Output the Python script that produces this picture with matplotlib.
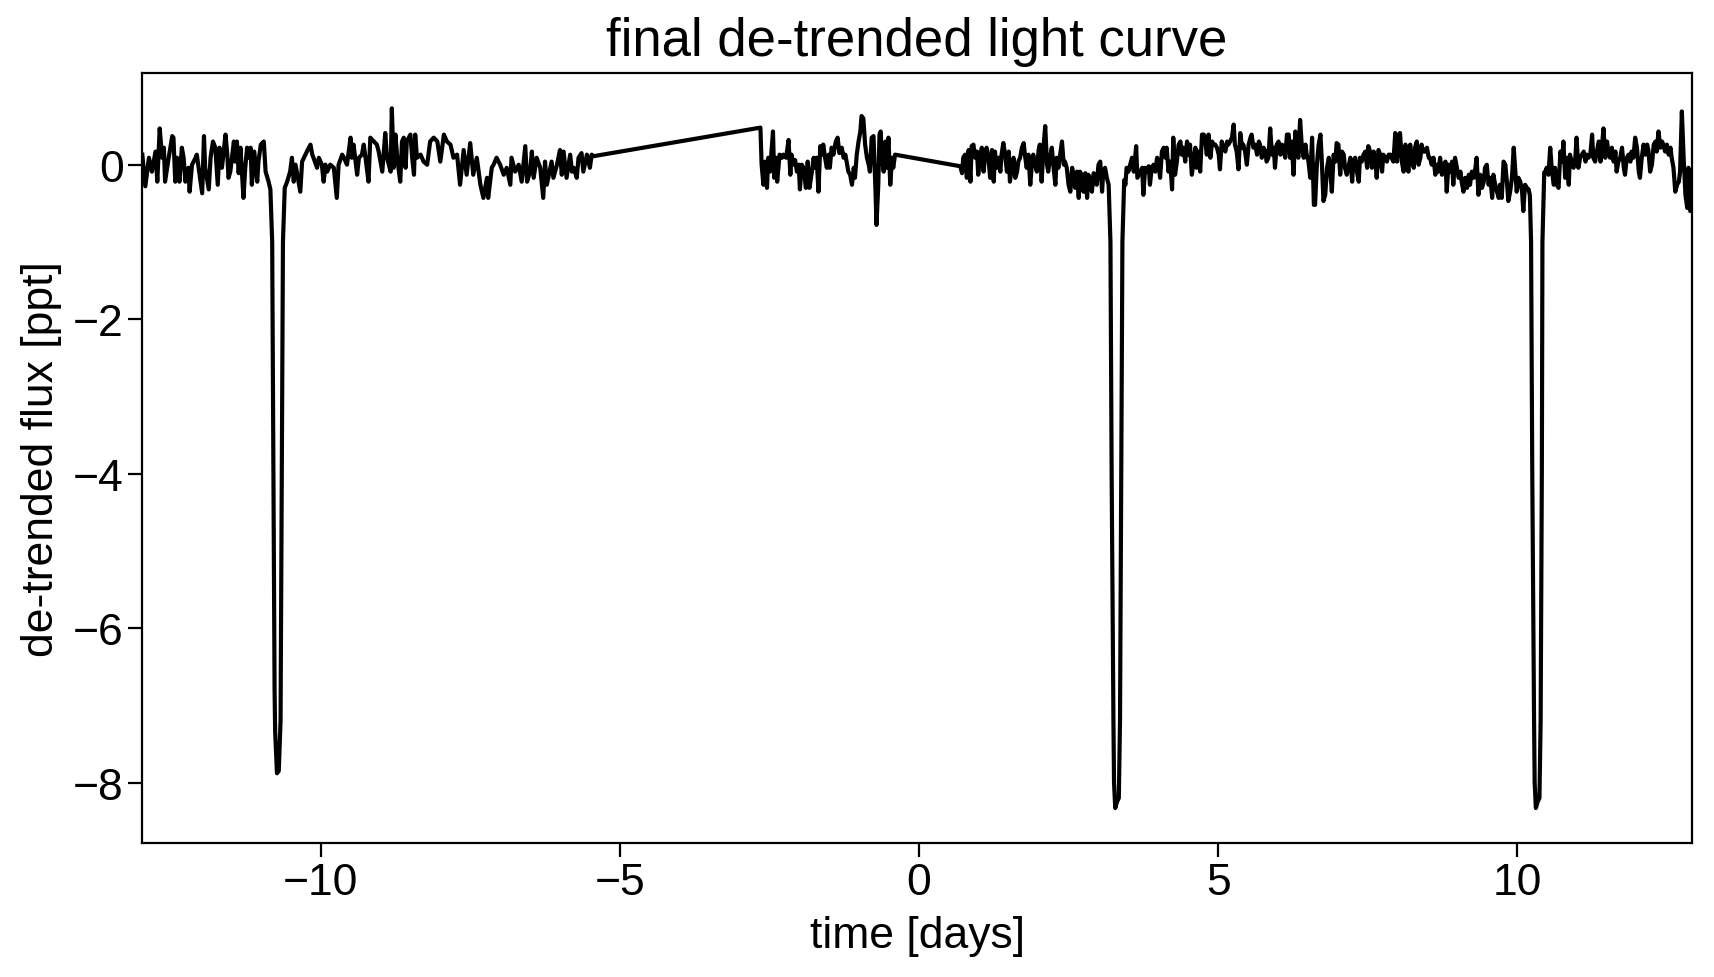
import matplotlib.pyplot as plt
import numpy as np

plt.rcParams["font.family"] = ["Liberation Sans", "DejaVu Sans"]

# first orbit, incl. transit near -10.7 d
time_a = [-12.98, -12.93, -12.87, -12.82, -12.76, -12.73, -12.69, -12.65, -12.62, -12.60,
          -12.54, -12.48, -12.46, -12.43, -12.40, -12.36, -12.32, -12.29, -12.26, -12.21,
          -12.19, -12.15, -12.09, -12.07, -12.04, -11.98, -11.95, -11.93, -11.87, -11.84,
          -11.80, -11.76, -11.72, -11.69, -11.65, -11.59, -11.56, -11.54, -11.51, -11.45,
          -11.43, -11.40, -11.37, -11.34, -11.29, -11.26, -11.23, -11.20, -11.17, -11.15,
          -11.11, -11.06, -11.04, -11.00, -10.95, -10.92, -10.87, -10.84,
          -10.81, -10.79, -10.77, -10.76, -10.73, -10.70, -10.67, -10.65, -10.63, -10.60,
          -10.56, -10.51, -10.48, -10.45, -10.42, -10.39, -10.34, -10.31, -10.28, -10.23,
          -10.17, -10.14, -10.12, -10.06, -10.03, -9.98, -9.95, -9.92, -9.89, -9.84,
          -9.78, -9.73, -9.70, -9.64, -9.61, -9.56, -9.50, -9.48, -9.45, -9.39,
          -9.36, -9.31, -9.28, -9.25, -9.20, -9.17, -9.11, -9.06, -9.03, -8.97,
          -8.92, -8.89, -8.83, -8.81, -8.78, -8.75, -8.72, -8.67, -8.64, -8.61,
          -8.58, -8.56, -8.50, -8.47, -8.44, -8.42, -8.39, -8.33, -8.28, -8.22,
          -8.17, -8.11, -8.05, -8.00, -7.94, -7.89, -7.83, -7.78, -7.72, -7.67,
          -7.61, -7.56, -7.50, -7.45, -7.39, -7.33, -7.28, -7.22, -7.20, -7.14,
          -7.11, -7.06, -7.00, -6.94, -6.89, -6.83, -6.81, -6.75, -6.69, -6.64,
          -6.58, -6.55, -6.50, -6.47, -6.44, -6.39, -6.33, -6.28, -6.25, -6.22,
          -6.16, -6.14, -6.11, -6.05, -6.00, -5.97, -5.94, -5.89, -5.83, -5.80,
          -5.77, -5.72, -5.69, -5.64, -5.61, -5.55, -5.50, -5.47, -5.44]
flux_a = [0.13, -0.28, 0.09, -0.09, 0.17, -0.22, 0.47, 0.09, 0.22, -0.22,
          0.09, 0.37, 0.35, -0.22, 0.09, -0.22, 0.22, 0.09, -0.22, -0.04,
          -0.35, 0.00, 0.09, 0.13, -0.04, -0.37, 0.37, -0.04, -0.32, 0.09,
          0.30, 0.22, -0.26, 0.22, -0.04, 0.39, 0.13, -0.17, -0.09, 0.30,
          0.04, 0.30, -0.11, 0.22, -0.43, -0.04, 0.22, 0.09, 0.22, -0.26,
          0.17, -0.22, 0.04, 0.26, 0.30, -0.09, -0.22, -0.32,
          -1.0, -4.0, -6.8, -7.35, -7.88, -7.85, -7.2, -4.0, -1.0, -0.30,
          -0.22, -0.09, 0.09, -0.22, 0.00, -0.13, -0.35, 0.04, 0.09, 0.17,
          0.26, 0.13, 0.09, -0.04, 0.09, 0.00, -0.22, 0.00, -0.09, 0.00,
          -0.04, -0.43, 0.00, 0.13, 0.09, 0.00, 0.35, 0.09, 0.26, -0.13,
          0.09, 0.13, 0.26, 0.09, -0.22, 0.35, 0.30, 0.26, 0.17, -0.09,
          0.41, 0.09, -0.09, 0.73, -0.04, 0.39, 0.09, -0.22, 0.30, 0.35,
          -0.04, 0.30, 0.39, 0.09, -0.13, 0.39, 0.09, 0.13, 0.04, 0.00,
          0.30, 0.35, 0.30, 0.04, 0.39, 0.30, 0.26, 0.09, 0.13, -0.26,
          0.19, -0.13, 0.28, -0.13, 0.09, -0.26, -0.43, -0.17, -0.43, -0.04,
          0.00, 0.09, 0.00, -0.13, -0.04, -0.26, 0.09, -0.09, 0.00, -0.22,
          0.24, -0.22, -0.09, 0.17, -0.17, 0.09, -0.04, -0.43, 0.04, -0.26,
          -0.04, 0.04, -0.17, 0.00, 0.19, -0.13, 0.17, -0.17, 0.13, -0.09,
          -0.04, -0.17, 0.09, 0.15, -0.09, 0.13, -0.04, 0.13, 0.11]

# short middle chunk
time_b = [-2.65, -2.63, -2.60, -2.57, -2.54, -2.52, -2.49, -2.44, -2.42, -2.39,
          -2.37, -2.33, -2.29, -2.27, -2.22, -2.18, -2.15, -2.13, -2.10, -2.07,
          -2.04, -2.01, -1.99, -1.96, -1.93, -1.89, -1.86, -1.83, -1.79, -1.76,
          -1.74, -1.71, -1.68, -1.65, -1.62, -1.60, -1.57, -1.54, -1.51, -1.49,
          -1.46, -1.43, -1.39, -1.36, -1.33, -1.29, -1.26, -1.23, -1.21, -1.18,
          -1.15, -1.12, -1.09, -1.07, -1.04, -1.01, -0.98, -0.96, -0.93, -0.90,
          -0.87, -0.84, -0.82, -0.79, -0.76, -0.73, -0.71, -0.68, -0.66, -0.64,
          -0.62, -0.59, -0.56, -0.54, -0.51, -0.48, -0.45, -0.43, -0.40]
flux_b = [0.48, 0.00, -0.26, 0.04, -0.30, 0.09, -0.09, 0.43, -0.17, 0.09,
          -0.22, 0.13, 0.09, 0.13, 0.09, 0.32, -0.13, 0.13, 0.00, 0.06,
          -0.09, 0.00, -0.32, 0.00, -0.04, -0.30, 0.04, -0.30, -0.09, 0.09,
          -0.04, 0.09, -0.35, 0.24, 0.13, 0.26, 0.09, -0.04, 0.13, -0.04,
          0.22, 0.13, 0.30, 0.35, 0.15, 0.22, 0.09, 0.13, 0.04, -0.09,
          -0.13, -0.26, -0.04, -0.17, 0.13, 0.30, 0.43, 0.63, 0.60, 0.26,
          0.09, 0.00, -0.09, 0.35, 0.37, -0.26, -0.78, -0.26, 0.39, 0.43,
          0.09, -0.09, 0.30, -0.04, 0.35, -0.26, 0.09, -0.04, 0.13]

# second orbit, transits near 3.3 d and 10.3 d
time_c = [0.69, 0.72, 0.74, 0.77, 0.80, 0.83, 0.86, 0.88, 0.91, 0.94,
          0.97, 0.99, 1.02, 1.05, 1.08, 1.11, 1.13, 1.16, 1.19, 1.22,
          1.25, 1.27, 1.30, 1.33, 1.36, 1.38, 1.41, 1.44, 1.47, 1.50,
          1.52, 1.55, 1.58, 1.61, 1.64, 1.66, 1.69, 1.72, 1.75, 1.77,
          1.80, 1.83, 1.86, 1.89, 1.91, 1.94, 1.97, 2.00, 2.02, 2.05,
          2.08, 2.11, 2.14, 2.16, 2.19, 2.22, 2.25, 2.28, 2.30, 2.33,
          2.39, 2.42, 2.44, 2.47, 2.50, 2.53, 2.56, 2.58, 2.61, 2.64,
          2.67, 2.69, 2.72, 2.75, 2.78, 2.81, 2.83, 2.86, 2.89, 2.92,
          2.95, 2.97, 3.00, 3.03, 3.06, 3.08, 3.11, 3.14, 3.17,
          3.20, 3.22, 3.25, 3.26, 3.28, 3.31, 3.34, 3.36, 3.38, 3.40, 3.43,
          3.45, 3.47, 3.50, 3.53, 3.56, 3.59, 3.63, 3.65, 3.70, 3.73,
          3.75, 3.78, 3.81, 3.84, 3.86, 3.89, 3.92, 3.95, 3.98, 4.00,
          4.03, 4.06, 4.09, 4.12, 4.14, 4.17, 4.20, 4.23, 4.25, 4.28,
          4.31, 4.34, 4.37, 4.39, 4.42, 4.45, 4.48, 4.51, 4.53, 4.56,
          4.59, 4.62, 4.64, 4.67, 4.70, 4.73, 4.76, 4.78, 4.81, 4.84,
          4.87, 4.90, 4.92, 4.95, 4.98, 5.01, 5.03, 5.06, 5.09, 5.12,
          5.15, 5.17, 5.20, 5.23, 5.26, 5.28, 5.31, 5.34, 5.37, 5.40,
          5.42, 5.45, 5.48, 5.51, 5.54, 5.56, 5.59, 5.62, 5.65, 5.68,
          5.70, 5.73, 5.76, 5.79, 5.81, 5.84, 5.87, 5.90, 5.93, 5.95,
          5.98, 6.01, 6.04, 6.07, 6.09, 6.12, 6.15, 6.18, 6.20, 6.23,
          6.26, 6.29, 6.32, 6.34, 6.37, 6.40, 6.43, 6.46, 6.48, 6.51,
          6.54, 6.57, 6.60, 6.62, 6.65, 6.68, 6.71, 6.73, 6.76, 6.79,
          6.82, 6.85, 6.87, 6.90, 6.93, 6.96, 6.98, 7.01, 7.04, 7.07,
          7.10, 7.12, 7.15, 7.21, 7.24, 7.26, 7.29, 7.32, 7.35, 7.37,
          7.40, 7.43, 7.46, 7.49, 7.51, 7.54, 7.57, 7.60, 7.63, 7.65,
          7.68, 7.71, 7.74, 7.76, 7.79, 7.82, 7.85, 7.88, 7.90, 7.93,
          7.96, 7.99, 8.02, 8.04, 8.07, 8.10, 8.13, 8.15, 8.18, 8.21,
          8.24, 8.27, 8.29, 8.32, 8.35, 8.38, 8.40, 8.43, 8.46, 8.49,
          8.52, 8.54, 8.57, 8.60, 8.63, 8.66, 8.68, 8.71, 8.74, 8.77,
          8.80, 8.82, 8.85, 8.88, 8.91, 8.93, 8.96, 8.99, 9.02, 9.05,
          9.07, 9.10, 9.13, 9.16, 9.19, 9.21, 9.24, 9.27, 9.30, 9.32,
          9.35, 9.38, 9.41, 9.44, 9.46, 9.49, 9.52, 9.55, 9.58, 9.60,
          9.63, 9.66, 9.69, 9.71, 9.74, 9.77, 9.80, 9.83, 9.85, 9.88,
          9.91, 9.94, 9.97, 9.99, 10.02, 10.05, 10.08, 10.10, 10.13, 10.16,
          10.19, 10.21, 10.23, 10.25, 10.28, 10.29, 10.31, 10.34, 10.37, 10.39,
          10.41, 10.42, 10.45, 10.47, 10.49, 10.52, 10.55, 10.58, 10.61, 10.63,
          10.66, 10.69, 10.72, 10.75, 10.77, 10.80, 10.83, 10.86, 10.88, 10.91,
          10.94, 10.97, 10.99, 11.02, 11.05, 11.08, 11.11, 11.14, 11.16, 11.19,
          11.22, 11.25, 11.27, 11.30, 11.33, 11.36, 11.39, 11.41, 11.44, 11.47,
          11.50, 11.52, 11.55, 11.58, 11.61, 11.64, 11.66, 11.69, 11.72, 11.75,
          11.78, 11.80, 11.83, 11.86, 11.89, 11.91, 11.94, 11.97, 12.00, 12.03,
          12.05, 12.08, 12.11, 12.14, 12.17, 12.19, 12.22, 12.25, 12.28, 12.31,
          12.33, 12.36, 12.39, 12.42, 12.44, 12.47, 12.50, 12.53, 12.56, 12.58,
          12.61, 12.64, 12.67, 12.70, 12.72, 12.75, 12.78, 12.81, 12.84, 12.86,
          12.89, 12.92]
flux_c = [-0.02, -0.11, 0.09, 0.13, -0.17, 0.19, -0.22, 0.24, 0.26, 0.09,
          0.17, -0.13, 0.09, 0.22, -0.09, 0.17, 0.22, 0.09, -0.17, 0.19,
          -0.22, 0.17, -0.04, 0.09, -0.09, 0.13, 0.28, 0.13, -0.09, 0.17,
          -0.22, -0.04, 0.09, -0.17, -0.09, 0.04, 0.09, 0.22, 0.28, 0.13,
          -0.04, 0.13, -0.26, 0.04, 0.13, 0.00, -0.09, 0.19, 0.26, -0.22,
          0.22, 0.50, 0.00, -0.09, 0.09, 0.22, -0.04, -0.26, 0.09, -0.04,
          0.30, 0.00, 0.04, -0.04, -0.26, -0.35, -0.04, -0.13, -0.30, -0.09,
          -0.43, -0.09, -0.13, -0.35, -0.11, -0.43, -0.13, -0.17, -0.35, -0.11,
          -0.17, -0.26, 0.00, 0.04, -0.35, -0.09, -0.04, -0.17, -0.26,
          -1.0, -4.0, -7.2, -8.0, -8.33, -8.25, -8.2, -7.2, -4.0, -1.0, -0.2,
          -0.26, -0.04, -0.09, 0.00, 0.09, -0.09, 0.24, -0.17, -0.09, -0.04,
          -0.39, -0.04, -0.09, -0.02, -0.26, -0.04, 0.00, -0.09, 0.09, 0.04,
          -0.17, 0.17, 0.22, 0.09, 0.22, -0.09, 0.04, -0.32, 0.35, -0.13,
          0.04, 0.26, 0.30, 0.13, 0.22, 0.04, 0.30, 0.13, 0.26, -0.13,
          0.04, 0.22, -0.04, 0.17, -0.09, 0.39, 0.39, 0.35, 0.13, 0.39,
          0.09, 0.30, 0.26, 0.26, 0.22, 0.13, -0.06, 0.30, 0.22, 0.17,
          0.30, 0.26, 0.30, 0.35, 0.52, 0.26, 0.17, -0.06, 0.41, 0.22,
          0.26, 0.17, 0.00, 0.26, 0.35, 0.39, 0.22, 0.26, 0.13, 0.30,
          0.26, 0.09, 0.22, 0.17, 0.04, 0.09, 0.47, 0.13, 0.22, -0.04,
          0.26, 0.30, 0.13, 0.26, 0.22, 0.09, 0.39, 0.39, 0.09, 0.30,
          -0.13, 0.43, 0.26, 0.09, 0.58, 0.22, 0.09, 0.26, 0.13, 0.04,
          -0.17, 0.35, -0.52, -0.52, 0.00, 0.26, 0.39, 0.09, -0.47, -0.39,
          -0.04, 0.09, -0.04, -0.35, 0.13, 0.04, 0.28, 0.26, -0.13, 0.17,
          0.13, -0.04, -0.13, 0.09, -0.22, 0.04, 0.09, -0.09, -0.22, 0.09,
          0.04, 0.13, 0.17, -0.04, 0.24, 0.17, -0.04, 0.17, 0.04, -0.17,
          0.19, 0.13, -0.09, 0.13, 0.09, 0.04, 0.13, 0.13, 0.09, 0.04,
          0.41, 0.04, 0.39, 0.41, 0.04, -0.09, 0.26, 0.09, -0.09, 0.26,
          0.04, -0.04, 0.22, 0.30, 0.00, 0.09, 0.26, 0.17, 0.17, 0.22,
          0.09, 0.09, 0.00, 0.09, -0.13, 0.00, -0.09, 0.09, -0.13, 0.00,
          0.04, -0.35, 0.00, -0.09, 0.04, -0.26, 0.09, -0.04, -0.17, -0.09,
          -0.22, -0.35, -0.17, -0.30, -0.13, -0.26, -0.09, -0.17, -0.04, 0.09,
          -0.39, -0.13, -0.30, -0.22, -0.04, 0.00, -0.26, -0.17, -0.43, -0.13,
          -0.26, -0.35, -0.43, -0.26, -0.43, 0.04, 0.00, -0.26, -0.47, -0.35,
          -0.17, 0.22, -0.13, -0.35, -0.17, -0.22, -0.35, -0.60, -0.26, -0.30,
          -0.32, -0.40, -1.0, -4.0, -7.2, -8.0, -8.33, -8.25, -8.2, -7.2,
          -4.0, -1.0, -0.10, -0.09, -0.04, -0.13, 0.22, -0.09, -0.26, -0.04,
          -0.26, -0.30, 0.17, 0.04, 0.30, -0.17, 0.09, -0.26, 0.13, 0.04,
          -0.04, 0.09, 0.35, -0.04, 0.09, 0.13, 0.17, 0.04, 0.13, 0.09,
          0.13, 0.39, 0.09, 0.04, 0.17, 0.30, 0.04, 0.19, 0.47, 0.09,
          0.30, 0.17, 0.09, 0.22, 0.04, 0.17, -0.09, 0.04, 0.09, 0.22,
          -0.04, -0.13, 0.09, 0.13, 0.04, 0.17, 0.09, 0.35, 0.22, -0.09,
          -0.17, 0.09, 0.26, 0.13, 0.26, 0.19, -0.09, 0.00, 0.26, 0.30,
          0.17, 0.43, 0.22, 0.30, 0.26, 0.17, 0.26, 0.13, 0.22, 0.09,
          -0.04, -0.35, -0.26, -0.22, -0.09, 0.69, 0.09, -0.39, -0.56, -0.04,
          -0.60, -0.55]

time = np.array(time_a + time_b + time_c)
flux = np.array(flux_a + flux_b + flux_c)

fig, ax = plt.subplots(figsize=(17.15, 9.78), dpi=100)
fig.subplots_adjust(left=0.083, right=0.9866, bottom=0.137, top=0.924)

ax.plot(time, flux, "k", lw=3.0)
ax.set_xlim(time.min(), time.max())

ax.set_title("final de-trended light curve", fontsize=38, pad=13)
ax.set_xlabel("time [days]", fontsize=32, labelpad=9)
ax.set_ylabel("de-trended flux [ppt]", fontsize=32, labelpad=8)
ax.tick_params(labelsize=32, length=10, width=1.6)
for s in ax.spines.values():
    s.set_linewidth(1.6)

plt.savefig("out.png", dpi=100)
